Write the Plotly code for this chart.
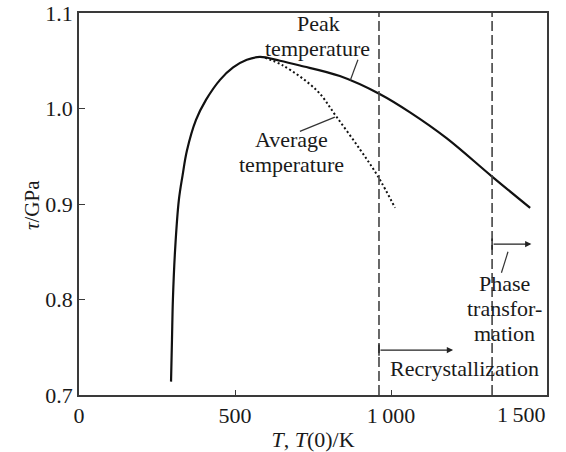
import plotly.graph_objects as go

# Data
peak_T = [295, 298, 301, 308, 320, 332, 346, 375, 407, 452, 494, 538, 580, 644, 708, 836, 965, 1061, 1178, 1323, 1446]
peak_tau = [0.714, 0.758, 0.800, 0.852, 0.904, 0.930, 0.956, 0.988, 1.009, 1.030, 1.043, 1.051, 1.054, 1.050, 1.045, 1.034, 1.015, 0.996, 0.969, 0.929, 0.896]

avg_T = [596, 654, 762, 826, 901, 958, 1013]
avg_tau = [1.053, 1.045, 1.019, 0.991, 0.957, 0.929, 0.896]

recryst_T = 961.5
phase_T = 1324

x_ticks = [0, 500, 1000, 1500]
x_tick_text = ["0", "500", "1\u2009000", ""]
x_last_label = "1\u2009500"
y_ticks = [0.7, 0.8, 0.9, 1.0, 1.1]
y_tick_text = ["0.7", "0.8", "0.9", "1.0", "1.1"]

FONT = "Liberation Serif"
FS = 22
FS_LBL = 22
TXT = "#1a1a1a"
AX = "#3a3a3a"

L, R, T, B = 79, 547, 13, 395  # plot area in pixels


def T_of(px):
    return (px - L) * 1500 / (R - L)


def tau_of(py):
    return 1.1 - (py - T) * 0.4 / (B - T)


fig = go.Figure()
fig.add_trace(go.Scatter(x=peak_T, y=peak_tau, mode="lines",
                         line=dict(color="#111", width=2.2, shape="spline", smoothing=1.0),
                         showlegend=False, hoverinfo="skip"))
fig.add_trace(go.Scatter(x=avg_T, y=avg_tau, mode="lines",
                         line=dict(color="#111", width=2, dash="2px,2.5px", shape="spline", smoothing=1.0),
                         showlegend=False, hoverinfo="skip"))

shapes = []
for xv in (recryst_T, phase_T):
    shapes.append(dict(type="line", xref="x", yref="y", x0=xv, x1=xv, y0=0.7, y1=1.1,
                       line=dict(color="#444", width=1.6, dash="10px,4px")))
# leader lines
for (x0, y0, x1, y1) in [(869, 1.029, 894, 1.051), (820, 0.991, 708, 0.976), (1375, 0.850, 1354, 0.828)]:
    shapes.append(dict(type="line", xref="x", yref="y", x0=x0, y0=y0, x1=x1, y1=y1,
                       line=dict(color="#333", width=1.2)))
# small ticks at arrow starts
for (xv, yv) in [(recryst_T, 0.747), (phase_T, 0.858)]:
    shapes.append(dict(type="line", xref="x", yref="y", x0=xv, x1=xv, y0=yv - 0.006, y1=yv + 0.006,
                       line=dict(color="#222", width=1.4)))

annotations = []
# arrows
for (xs, xe, yv) in [(recryst_T, 1199, 0.747), (phase_T, 1450, 0.858)]:
    annotations.append(dict(x=xe, y=yv, ax=xs, ay=yv, xref="x", yref="y", axref="x", ayref="y",
                            showarrow=True, arrowhead=2, arrowsize=0.9, arrowwidth=1.4,
                            arrowcolor="#222", text=""))
# labels, one line each (pixel centres measured on the reference)
labels = [
    ("Peak", 318, 23),
    ("temperature", 317, 48),
    ("Average", 291, 139),
    ("temperature", 291, 164),
    ("Phase", 504, 283),
    ("transfor-", 504, 308),
    ("mation", 504, 333),
    ("Recrystallization", 464, 368),
]
for text, px, py in labels:
    annotations.append(dict(x=T_of(px), y=tau_of(py), xref="x", yref="y", text=text,
                            showarrow=False, align="center", xanchor="center", yanchor="middle",
                            font=dict(family=FONT, size=FS_LBL, color=TXT)))
# last x tick label, kept inside the page like the reference
annotations.append(dict(x=1, y=(B - 414) / (B - T), xref="paper", yref="paper",
                        text=x_last_label, showarrow=False, xanchor="right", yanchor="middle",
                        font=dict(family=FONT, size=FS, color=TXT)))
# y-axis title
annotations.append(dict(x=(32 - L) / (R - L), y=(B - 205) / (B - T), xref="paper", yref="paper",
                        text="<i>τ</i>/GPa", showarrow=False, textangle=-90,
                        xanchor="center", yanchor="middle",
                        font=dict(family=FONT, size=21, color=TXT)))

fig.update_layout(
    width=566, height=452,
    margin=dict(l=L, r=566 - R, t=T, b=452 - B),
    paper_bgcolor="white", plot_bgcolor="white",
    shapes=shapes, annotations=annotations,
    font=dict(family=FONT, size=FS, color=TXT),
    xaxis=dict(range=[0, 1500], tickvals=x_ticks, ticktext=x_tick_text,
               ticks="inside", ticklen=5, tickwidth=1.3, tickcolor=AX,
               showline=True, linecolor=AX, linewidth=1.6, mirror=True,
               showgrid=False, zeroline=False, ticklabelstandoff=0, automargin=False,
               title=dict(text="<i>T</i>, <i>T</i>(0)/K", standoff=4,
                          font=dict(family=FONT, size=FS, color=TXT)),
               tickfont=dict(family=FONT, size=FS, color=TXT)),
    yaxis=dict(range=[0.7, 1.1], tickvals=y_ticks, ticktext=y_tick_text,
               ticks="inside", ticklen=6, tickwidth=1.3, tickcolor=AX,
               showline=True, linecolor=AX, linewidth=1.6, mirror=True,
               showgrid=False, zeroline=False, automargin=False,
               tickfont=dict(family=FONT, size=FS, color=TXT)),
)

fig.write_html("out.html")
